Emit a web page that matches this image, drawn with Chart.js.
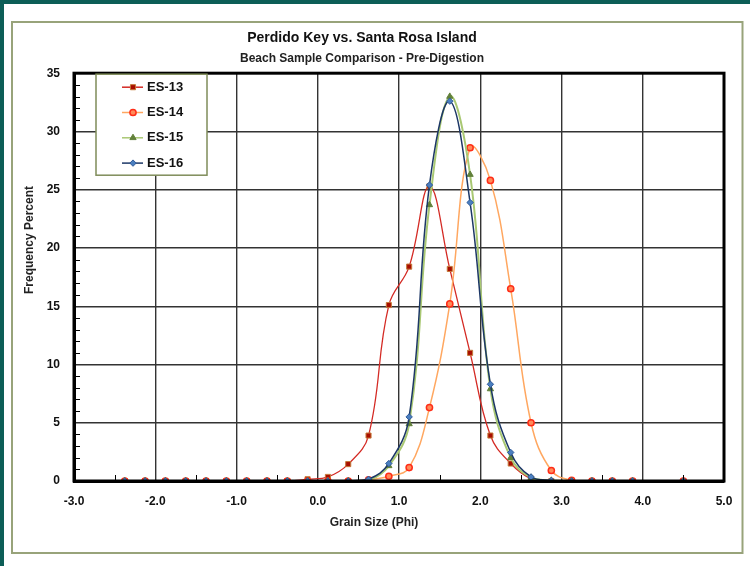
<!DOCTYPE html>
<html lang="en">
<head>
    <meta charset="UTF-8">
    <title>Perdido Key vs. Santa Rosa Island</title>
    <script src="https://cdn.jsdelivr.net/npm/chart.js@4.4.1/dist/chart.umd.min.js"></script>
</head>
<style>
    body {
        margin: 0;
        background: white;
    }
    canvas {
        display: block;
    }
</style>
<body>
    <canvas id="grainChart" width="750" height="566"></canvas>

    <script>
        // grain size classes (phi, bin midpoints)
        const phi = [-2.375, -2.125, -1.875, -1.625, -1.375, -1.125, -0.875, -0.625, -0.375,
                     -0.125, 0.125, 0.375, 0.625, 0.875, 1.125, 1.375, 1.625, 1.875, 2.125,
                     2.375, 2.625, 2.875, 3.125, 3.375, 3.625, 3.875, 4.5]

        const es13 = [0, 0, 0, 0, 0, 0, 0, 0, 0,
                      0.15, 0.35, 1.45, 3.9, 15.1, 18.4, 25.3, 18.2, 11.0, 3.9,
                      1.5, 0.2, 0, 0, 0, 0, 0, 0]
        const es14 = [0, 0, 0, 0, 0, 0, 0, 0, 0,
                      0, 0, 0, 0.1, 0.4, 1.15, 6.3, 15.2, 28.6, 25.8,
                      16.5, 5.0, 0.9, 0.05, 0, 0, 0, 0]
        const es15 = [0, 0, 0, 0, 0, 0, 0, 0, 0,
                      0, 0, 0, 0.05, 1.3, 4.9, 23.7, 33.0, 26.3, 7.9,
                      2.0, 0.3, 0.05, 0, 0, 0, 0, 0]
        const es16 = [0, 0, 0, 0, 0, 0, 0, 0, 0,
                      0, 0, 0, 0.15, 1.5, 5.5, 25.4, 32.6, 23.9, 8.3,
                      2.45, 0.35, 0.05, 0, 0, 0, 0, 0]

        const xTicks = [-3, -2, -1, 0, 1, 2, 3, 4, 5]
        const yTicks = [0, 5, 10, 15, 20, 25, 30, 35]

        const toPoints = (ys) => phi.map((x, i) => ({ x: x, y: ys[i] }))

        const sans = "'Liberation Sans', Arial, sans-serif"

        // page frame, plot border, minor ticks, axis titles
        const frame = {
            id: 'frame',
            beforeDraw: (chart) => {
                const ctx = chart.ctx
                ctx.save()
                ctx.fillStyle = 'white'
                ctx.fillRect(0, 0, chart.width, chart.height)
                ctx.fillStyle = '#0d5e57'
                ctx.fillRect(0, 0, chart.width, 4)
                ctx.fillRect(0, 0, 4, chart.height)
                ctx.strokeStyle = '#98a37a'
                ctx.lineWidth = 2
                ctx.strokeRect(12, 22, 730.5, 531)
                ctx.restore()
            },
            afterDatasetsDraw: (chart) => {
                const ctx = chart.ctx
                const a = chart.chartArea
                const xs = chart.scales.x
                const ys = chart.scales.y
                ctx.save()
                ctx.strokeStyle = 'black'
                ctx.lineWidth = 1
                ctx.beginPath()
                for (let v = 1; v < 35; v++) {
                    if (v % 5 == 0) continue
                    const py = Math.round(ys.getPixelForValue(v)) + 0.5
                    ctx.moveTo(a.left, py)
                    ctx.lineTo(a.left + 6, py)
                }
                for (let v = -2.5; v < 5; v += 1) {
                    const px = Math.round(xs.getPixelForValue(v)) + 0.5
                    ctx.moveTo(px, a.bottom)
                    ctx.lineTo(px, a.bottom - 6)
                }
                ctx.stroke()
                ctx.lineWidth = 3
                ctx.strokeRect(a.left, a.top, a.right - a.left, a.bottom - a.top)

                ctx.fillStyle = '#222'
                ctx.font = 'bold 12px ' + sans
                ctx.textAlign = 'center'
                ctx.textBaseline = 'middle'
                ctx.fillText('Grain Size (Phi)', 374, 523)
                ctx.translate(30, 240)
                ctx.rotate(-Math.PI / 2)
                ctx.fillText('Frequency Percent', 0, 0)
                ctx.restore()
            }
        }

        // legend box in the upper left of the plot
        const legendBox = {
            id: 'legendBox',
            afterDraw: (chart) => {
                const ctx = chart.ctx
                const a = chart.chartArea
                const left = a.left + 22
                const top = a.top + 1
                ctx.save()
                ctx.fillStyle = 'white'
                ctx.fillRect(left, top, 111, 101)
                ctx.strokeStyle = '#7f8c5a'
                ctx.lineWidth = 1.5
                ctx.strokeRect(left, top, 111, 101)
                chart.data.datasets.forEach((ds, i) => {
                    const y = top + 13 + i * 25.3
                    ctx.strokeStyle = ds.borderColor
                    ctx.lineWidth = 1.5
                    ctx.beginPath()
                    ctx.moveTo(left + 26, y)
                    ctx.lineTo(left + 47, y)
                    ctx.stroke()
                    ctx.fillStyle = ds.pointBackgroundColor
                    ctx.strokeStyle = ds.pointBorderColor
                    ctx.lineWidth = ds.pointBorderWidth
                    Chart.helpers.drawPoint(ctx, {
                        pointStyle: ds.pointStyle,
                        radius: ds.pointRadius,
                        borderWidth: ds.pointBorderWidth,
                        rotation: 0
                    }, left + 37, y)
                    ctx.fillStyle = '#111'
                    ctx.font = 'bold 13px ' + sans
                    ctx.textAlign = 'left'
                    ctx.textBaseline = 'middle'
                    ctx.fillText(ds.label, left + 51, y)
                })
                ctx.restore()
            }
        }

        const chart = new Chart('grainChart', {
            type: 'scatter',
            data: {
                datasets: [{
                    label: 'ES-13',
                    data: toPoints(es13),
                    showLine: true,
                    borderColor: '#d42a24',
                    borderWidth: 1.3,
                    pointStyle: 'rect',
                    pointRadius: 3.6,
                    pointBackgroundColor: '#a80d00',
                    pointBorderColor: '#c47a3a',
                    pointBorderWidth: 1,
                    order: 4
                }, {
                    label: 'ES-14',
                    data: toPoints(es14),
                    showLine: true,
                    borderColor: '#ffa760',
                    borderWidth: 1.5,
                    pointStyle: 'circle',
                    pointRadius: 3.1,
                    pointBackgroundColor: '#ff8a5a',
                    pointBorderColor: '#ff2d17',
                    pointBorderWidth: 1.5,
                    order: 3
                }, {
                    label: 'ES-15',
                    data: toPoints(es15),
                    showLine: true,
                    borderColor: '#a9c873',
                    borderWidth: 2,
                    pointStyle: 'triangle',
                    pointRadius: 3.6,
                    pointBackgroundColor: '#61803a',
                    pointBorderColor: '#61803a',
                    pointBorderWidth: 1,
                    order: 2
                }, {
                    label: 'ES-16',
                    data: toPoints(es16),
                    showLine: true,
                    borderColor: '#1c3766',
                    borderWidth: 1.5,
                    pointStyle: 'rectRot',
                    pointRadius: 3.2,
                    pointBackgroundColor: '#4b7fc0',
                    pointBorderColor: '#2f5a9a',
                    pointBorderWidth: 1,
                    order: 1
                }]
            },
            options: {
                responsive: false,
                animation: false,
                events: [],
                elements: {
                    line: { tension: 0.4 }
                },
                layout: {
                    padding: { left: 0, right: 26, top: 0, bottom: 0 }
                },
                plugins: {
                    legend: { display: false },
                    tooltip: { enabled: false },
                    title: {
                        display: true,
                        text: 'Perdido Key vs. Santa Rosa Island',
                        color: '#111',
                        font: { family: sans, size: 14, weight: 'bold', lineHeight: 1.2 },
                        padding: { top: 30, bottom: 5 }
                    },
                    subtitle: {
                        display: true,
                        text: 'Beach Sample Comparison - Pre-Digestion',
                        color: '#222',
                        font: { family: sans, size: 12, weight: 'bold', lineHeight: 1.2 },
                        padding: { top: 0, bottom: 7 }
                    }
                },
                scales: {
                    x: {
                        type: 'linear',
                        min: -3,
                        max: 5,
                        afterBuildTicks: (scale) => {
                            scale.ticks = xTicks.map(v => ({ value: v }))
                        },
                        afterFit: (scale) => { scale.height = 85 },
                        ticks: {
                            color: '#111',
                            font: { family: sans, size: 12, weight: 'bold' },
                            padding: 13,
                            maxRotation: 0,
                            callback: (v) => v.toFixed(1)
                        },
                        grid: {
                            color: '#333',
                            lineWidth: 1.4,
                            drawTicks: false
                        },
                        border: { color: 'black', width: 3 }
                    },
                    y: {
                        min: 0,
                        max: 35,
                        afterBuildTicks: (scale) => {
                            scale.ticks = yTicks.map(v => ({ value: v }))
                        },
                        afterFit: (scale) => { scale.width = 74 },
                        ticks: {
                            color: '#111',
                            font: { family: sans, size: 12, weight: 'bold' },
                            padding: 14
                        },
                        grid: {
                            color: '#333',
                            lineWidth: 1.4,
                            drawTicks: false
                        },
                        border: { color: 'black', width: 3 }
                    }
                }
            },
            plugins: [frame, legendBox]
        })
    </script>
</body>
</html>
